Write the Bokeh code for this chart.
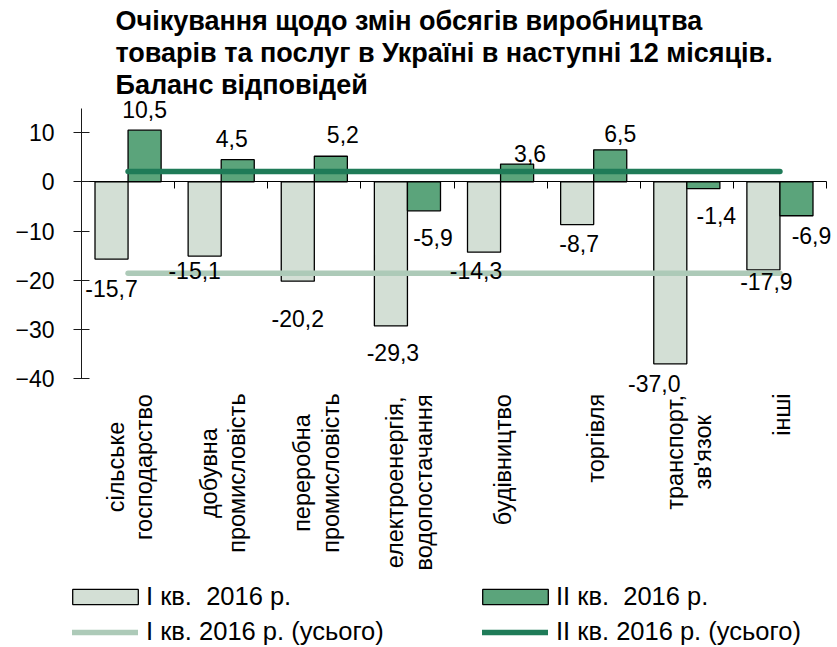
import numpy as np
from math import pi
from bokeh.plotting import figure
from bokeh.core.properties import value
from bokeh.models import (LinearAxis, FixedTicker, LabelSet, ColumnDataSource,
                          Legend, LegendItem, Title)
from bokeh.embed import file_html
from bokeh.resources import INLINE

# ---------------- data ----------------
categories = ["сільське\nгосподарство", "добувна\nпромисловість", "переробна\nпромисловість",
              "електроенергія,\nводопостачання", "будівництво", "торгівля",
              "транспорт,\nзв'язок", "інші"]
q1_values = [-15.7, -15.1, -20.2, -29.3, -14.3, -8.7, -37.0, -17.9]
q2_values = [10.5, 4.5, 5.2, -5.9, 3.6, 6.5, -1.4, -6.9]
q1_total = -18.6
q2_total = 2.1
series_names = ["I кв.  2016 р.", "II кв.  2016 р."]
total_names = ["I кв. 2016 р. (усього)", "II кв. 2016 р. (усього)"]
y_ticks = [-40, -30, -20, -10, 0, 10]
y_axis_bounds = (-40, 15)
title_lines = ["Очікування щодо змін обсягів виробництва",
               "товарів та послуг в Україні в наступні 12 місяців.",
               "Баланс відповідей"]

# label nudges (screen px; dx right, dy down) - style only
q1_dx = [0, -10, 0, 2, -8, 2, -16, 3]
q1_dy = [29, 14, 37, 27, 18, 19, 20, 12]
q2_dx = [0, -6, 12, 9, 13, 10, 13, 15]
q2_dy = [-21, -21, -22, 27, -11, -16, 27, 20]

# ---------------- styles ----------------
FONT = "Liberation Sans"
FS = "23px"
LEG_FS = "25.5px"
CAT_PX = 23.5
LIGHT_FILL = "#D3DFD5"
DARK_FILL = "#5BA47B"
LIGHT_LINE = "#ADCAB8"
DARK_LINE = "#1F7B58"
BAR_W = 0.355

# approximate advance widths (1/1000 em) of Liberation Sans, used to centre wrapped labels
CHAR_W = {"а": 556, "б": 573, "в": 531, "г": 365, "д": 583, "е": 556, "є": 510, "ж": 669,
          "з": 458, "и": 559, "і": 222, "ї": 278, "й": 559, "к": 438, "л": 583, "м": 688,
          "н": 552, "о": 556, "п": 542, "р": 556, "с": 500, "т": 458, "у": 500, "ф": 823,
          "х": 500, "ц": 573, "ч": 521, "ш": 802, "щ": 823, "ь": 521, "ю": 750, "я": 542,
          ",": 278, "'": 191, " ": 278, ".": 278}


def text_len(s, px):
    return sum(CHAR_W.get(ch, 556) for ch in s) / 1000.0 * px


n = len(categories)
centers = np.arange(n) + 0.5

# the frame fills the canvas below the title; axes are placed at fixed locations
p = figure(width=835, height=645, x_range=(-0.8698, n + 0.0966), y_range=(-94.25, 16.73),
           output_backend="svg", toolbar_location=None,
           x_axis_type=None, y_axis_type=None,
           min_border_left=0, min_border_right=0, min_border_top=99, min_border_bottom=0)
p.outline_line_color = None
p.grid.visible = False
p.background_fill_color = "white"

# titles (last added is farthest from plot)
for line in reversed(title_lines):
    t = Title(text=line, text_font=FONT, text_font_style="bold", text_font_size="27px",
              align="left", offset=115, standoff=0, text_color="black")
    p.add_layout(t, "above")

# y axis at x = 0
yax = LinearAxis(fixed_location=0, ticker=FixedTicker(ticks=y_ticks), bounds=y_axis_bounds,
                 major_tick_in=8, major_tick_out=8,
                 minor_tick_line_color=None, axis_line_color="#1a1a1a",
                 major_tick_line_color="#1a1a1a", major_label_standoff=19,
                 major_label_text_font=FONT, major_label_text_font_size=FS,
                 major_label_text_color="black")
p.add_layout(yax, "left")

# zero axis with boundary ticks
xzero = LinearAxis(fixed_location=0, ticker=FixedTicker(ticks=list(range(n + 1))),
                   bounds=(0, n),
                   major_tick_in=0, major_tick_out=7, minor_tick_line_color=None,
                   axis_line_color="#000000", major_tick_line_color="#000000",
                   major_label_overrides={i: "" for i in range(n + 1)},
                   major_label_text_font_size="1px")
p.add_layout(xzero, "below")

# bars
src1 = ColumnDataSource(dict(x=centers - BAR_W / 2, y=q1_values,
                             t=[f"{v:.1f}".replace(".", ",") for v in q1_values],
                             dx=q1_dx, dy=[-d for d in q1_dy]))
src2 = ColumnDataSource(dict(x=centers + BAR_W / 2, y=q2_values,
                             t=[f"{v:.1f}".replace(".", ",") for v in q2_values],
                             dx=q2_dx, dy=[-d for d in q2_dy]))
r1 = p.vbar(x="x", top="y", bottom=0, width=BAR_W, source=src1,
            fill_color=LIGHT_FILL, line_color="black", line_width=1.3)
r2 = p.vbar(x="x", top="y", bottom=0, width=BAR_W, source=src2,
            fill_color=DARK_FILL, line_color="black", line_width=1.3)

# total lines (from first to last category centre)
rl1 = p.line(x=[centers[0], centers[-1]], y=[q1_total, q1_total], line_color=LIGHT_LINE,
             line_width=5.5, line_cap="round")
rl2 = p.line(x=[centers[0], centers[-1]], y=[q2_total, q2_total], line_color=DARK_LINE,
             line_width=5.5, line_cap="round")

for src in (src1, src2):
    p.add_layout(LabelSet(x="x", y="y", text="t", source=src, x_offset="dx", y_offset="dy",
                          text_align="center", text_baseline="middle",
                          text_font=value(FONT), text_font_size=value(FS),
                          text_color="black"))

# category labels, rotated, hanging below the plot area; wrapped lines centred on each other
LABEL_TOP = 252      # screen px above the frame bottom where the longest line starts
LINE_PITCH = 28.5
cx, cdx, cy, ct = [], [], [], []
for c, lab in zip(centers, categories):
    lines = lab.split("\n")
    longest = max(text_len(s, CAT_PX) for s in lines)
    for j, s in enumerate(lines):
        cx.append(c)
        cdx.append((j - (len(lines) - 1) / 2.0) * LINE_PITCH + 2)
        cy.append(LABEL_TOP - longest / 2.0)
        ct.append(s)
cat_src = ColumnDataSource(dict(x=cx, dx=cdx, y=cy, t=ct))
p.add_layout(LabelSet(x="x", y="y", y_units="screen", x_offset="dx", text="t", source=cat_src,
                      angle=pi / 2, text_align="center", text_baseline="middle",
                      text_font=value(FONT), text_font_size=value(f"{CAT_PX}px"),
                      text_color="black"))

# legends: bars row and totals row
common = dict(orientation="horizontal", padding=0, margin=0, spacing=0,
              border_line_color=None, background_fill_color=None,
              label_text_font=FONT, label_text_font_size=LEG_FS, label_text_color="black")
leg_bars = Legend(items=[LegendItem(label=series_names[0], renderers=[r1]),
                         LegendItem(label=series_names[1], renderers=[r2])],
                  location=(64, 34), glyph_width=82, glyph_height=19, label_standoff=0,
                  label_width=328, **common)
leg_lines = Legend(items=[LegendItem(label=total_names[0], renderers=[rl1]),
                          LegendItem(label=total_names[1], renderers=[rl2])],
                   location=(72, -1), glyph_width=66, glyph_height=14, label_standoff=8,
                   label_width=336, **common)
p.add_layout(leg_bars, "center")
p.add_layout(leg_lines, "center")

open("out.html", "w").write(file_html(p, INLINE))
